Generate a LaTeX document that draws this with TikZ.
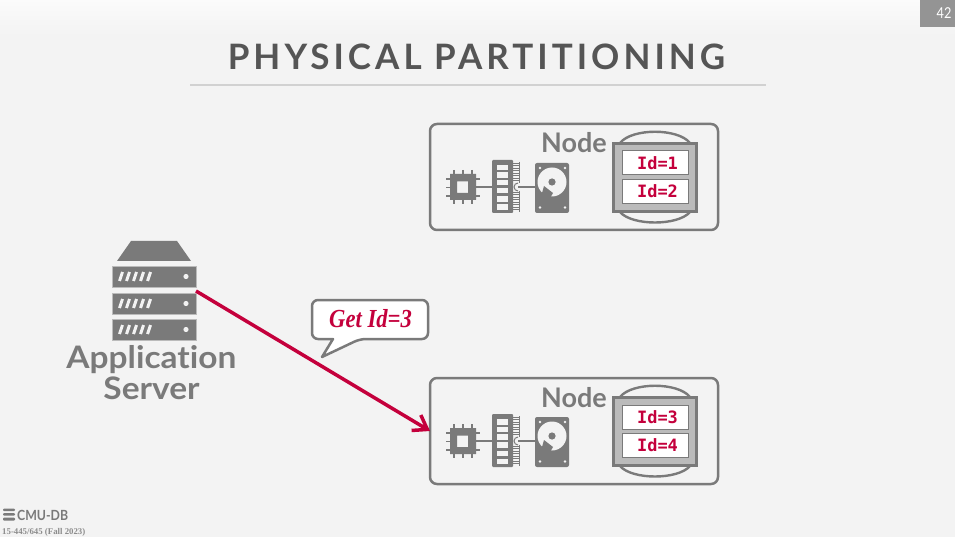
\documentclass[tikz,border=0pt]{standalone}
\usepackage{fontspec}
\usetikzlibrary{arrows.meta}
\setmainfont{Lato}[Ligatures=NoCommon]
\newfontfamily\titlefont{Lato}[LetterSpace=11.5,Ligatures=NoCommon]
\newfontfamily\idfont{DejaVu Sans Mono}
\newfontfamily\quotefont{Liberation Serif}
\newfontfamily\quotenarrow{Liberation Serif}[FakeStretch=0.87]
\newfontfamily\logofont{Lato}[FakeStretch=0.88,Ligatures=NoCommon]
\newfontfamily\pagefont{Lato}[FakeStretch=0.85]
\newfontfamily\widefont{Lato}[FakeStretch=1.08,Ligatures=NoCommon]
\definecolor{bgc}{HTML}{F3F3F3}
\definecolor{ink}{HTML}{7A7A7A}
\definecolor{crim}{HTML}{C4003C}
\definecolor{titlec}{HTML}{555555}
\definecolor{framec}{HTML}{BBBBBB}
\tikzset{
  x=1pt,y=-1pt,
  hostbox/.style={draw=ink,line width=2.5pt,rounded corners=7pt,minimum width=288pt,minimum height=106pt,outer sep=0pt,inner sep=0pt},
  nodelabel/.style={text=ink,font=\fontsize{27}{27}\selectfont\bfseries,inner sep=0pt,anchor=base},
  idrow/.style={fill=white,draw=ink,line width=1pt,minimum width=66pt,minimum height=24pt,inner sep=0pt,outer sep=0pt,text=crim,font=\fontsize{17}{17}\selectfont\idfont\bfseries},
  wire/.style={draw=ink,line width=1.2pt},
  srvunit/.style={fill=ink,draw=framec,line width=.5pt,minimum width=84pt,minimum height=21pt,inner sep=0pt,outer sep=0pt},
  srvtext/.style={text=ink,inner sep=0pt,anchor=base,font=\fontsize{31}{31}\selectfont\widefont\bfseries},
  pics/hostparts/.style 2 args={code={
    % disk stack
    \draw[ink,line width=2.4pt] (620,143) .. controls (632,128) and (678,128) .. (690,143);
    \draw[ink,line width=2.4pt] (620,212) .. controls (632,226) and (678,226) .. (690,212);
    \node[fill=framec,draw=ink,line width=2.2pt,minimum width=83pt,minimum height=68pt,inner sep=0pt,outer sep=0pt] (-stack) at (655,177.5) {};
    \node[idrow] (-rowa) at (655,163) {\hspace{5pt}\raisebox{-1pt}{#1}};
    \node[idrow] (-rowb) at (655,191.5) {\hspace{5pt}\raisebox{-1pt}{#2}};
    % cpu
    \foreach \px in {454,463,472}{
      \draw[ink,line width=1.6pt] (\px,170) -- (\px,174);
      \draw[ink,line width=1.6pt] (\px,200) -- (\px,204);}
    \foreach \py in {179,187.5,196}{
      \draw[ink,line width=1.6pt] (446,\py) -- (450,\py);
      \draw[ink,line width=1.6pt] (476,\py) -- (480,\py);}
    \fill[ink,even odd rule] (450,174) rectangle (476,200) (457,181.5) rectangle (468,193);
    % wires
    \draw[wire] (476,187) -- (492,187);
    \draw[wire] (518,187) -- (535,187);
    % ram
    \fill[ink,rounded corners=1pt] (492,160) rectangle (513,213);
    \foreach \ry in {165,172.5,180,188,196.5,204.5}{
      \fill[bgc] (497,\ry) rectangle (508,\ry+5.5);}
    \foreach \ty in {163,165.5,...,182}{\draw[ink,line width=.7pt] (513,\ty) -- (519,\ty);}
    \foreach \ty in {192,194.5,...,211}{\draw[ink,line width=.7pt] (513,\ty) -- (519,\ty);}
    \draw[ink,line width=1pt] (519,162) -- (519,183) (519,191) -- (519,212);
    \draw[ink,line width=1pt] (518,183) arc[start angle=90,end angle=270,radius=4pt];
    % hdd
    \fill[ink,rounded corners=2pt] (535,163) rectangle (569,213);
    \fill[bgc] (552,182) circle[radius=14.5pt];
    \fill[ink] (552,182) circle[radius=3.6pt];
    \fill[ink] (544,186) -- (553,193) -- (549,200) -- (540,200) -- cycle;
    \foreach \sx/\sy in {540/168,565/168,540/207.5,565/207.5}{\fill[bgc] (\sx,\sy) circle[radius=1.3pt];}
  }},
}
\begin{document}
\begin{tikzpicture}
\useasboundingbox (0,0) rectangle (955,537);
\fill[bgc] (0,0) rectangle (955,537);
\shade[top color=white!65!bgc,bottom color=bgc] (0,0) rectangle (955,36);
% title
\node[text=titlec,inner sep=0pt,anchor=base,font=\fontsize{35}{35}\selectfont\titlefont\bfseries] (title) at (476.5,70) {PHYSICAL PARTITIONING};
\draw[draw=black!18,line width=2pt] (190,85) -- (766,85);
% page number
\node[fill=black!42,minimum width=35pt,minimum height=27pt,inner sep=0pt,outer sep=0pt] (pageno) at (937.5,13.5) {};
\node[text=white,inner sep=0pt,font=\fontsize{15}{15}\selectfont\pagefont] (pagetext) at (944,13) {42};
% hosts
\node[hostbox] (hostA) at (574,177) {};
\node[hostbox] (hostB) at (574,431) {};
\node[nodelabel] (hostAlabel) at (574,153) {Node};
\node[nodelabel] (hostBlabel) at (574,407) {Node};
\pic (partsA) at (0,0) {hostparts={Id=1}{Id=2}};
\pic (partsB) at (0,254) {hostparts={Id=3}{Id=4}};
% application server
\fill[ink] (131,241) -- (177,241) -- (191,261) -- (117,261) -- cycle;
\node[srvunit] (srva) at (154,276.5) {};
\node[srvunit] (srvb) at (154,303.5) {};
\node[srvunit] (srvc) at (154,329.5) {};
\foreach \uy in {276.5,303.5,329.5}{
  \foreach \sx in {119.5,126.5,133.5,140.5,147.5}{
    \draw[bgc,line width=3pt] (\sx,\uy+4.5) -- (\sx+3,\uy-4.5);}
  \fill[white!90!ink] (186,\uy) circle[radius=2.6pt];
}
\node[srvtext] (srvname) at (151.5,368) {Application};
\node[srvtext] (srvname2) at (151.5,399) {Server};
% callout
\filldraw[fill=white,draw=ink,line width=2.5pt,rounded corners=6pt,line join=round]
  (312,300) -- (428,300) -- (428,339) -- (360,339) [sharp corners] -- (322,357) -- (333,339) [rounded corners=6pt] -- (312,339) -- cycle;
\node[text=crim,inner sep=0pt,font=\fontsize{26}{26}\selectfont\quotenarrow\bfseries\itshape] (quote) at (370.5,319) {Get Id=3};
% arrow
\draw[crim,line width=3.5pt,-{Straight Barb[length=13pt,width=18pt,line width=3.5pt]}] ([yshift=-4pt]srva.south east) -- (hostB.west);
% footer
\fill[ink,rounded corners=1pt] (3,508.5) rectangle (15,511) (3,513) rectangle (15,515.5) (3,517.5) rectangle (15,520.5);
\node[text=ink,inner sep=0pt,anchor=base west,font=\fontsize{14}{14}\selectfont\logofont\bfseries] (cmu) at (17,520.5) {CMU-DB};
\node[text=black!45,inner sep=0pt,anchor=base west,font=\fontsize{8.8}{8.8}\selectfont\quotefont\bfseries] (course) at (2,534) {15-445/645 (Fall 2023)};
\end{tikzpicture}
\end{document}
